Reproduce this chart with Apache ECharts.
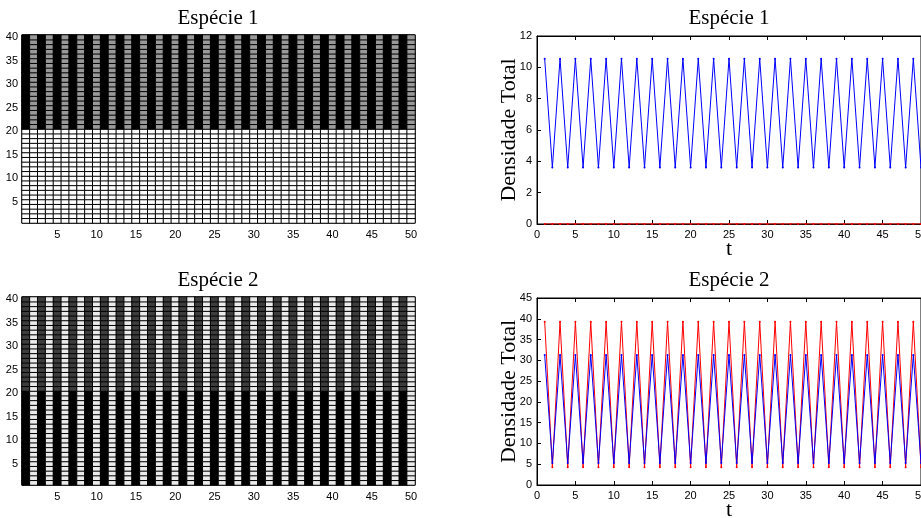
<!DOCTYPE html>
<html>
<head>
<meta charset="utf-8">
<script src="https://cdn.jsdelivr.net/npm/echarts@6/dist/echarts.min.js"></script>
<style>
  html, body { margin: 0; padding: 0; background: #fff; }
  #chart { width: 921px; height: 518px; }
</style>
</head>
<body>
<div id="chart"></div>
<script>
// ---- Lattice snapshot (50 columns x 40 rows) ----
const colunas = ['1','2','3','4','5','6','7','8','9','10','11','12','13','14','15','16','17','18','19','20',
  '21','22','23','24','25','26','27','28','29','30','31','32','33','34','35','36','37','38','39','40',
  '41','42','43','44','45','46','47','48','49','50'];
const linhas = ['1','2','3','4','5','6','7','8','9','10','11','12','13','14','15','16','17','18','19','20',
  '21','22','23','24','25','26','27','28','29','30','31','32','33','34','35','36','37','38','39','40'];
// rows 1..20 form the lower half, 21..40 the upper half
const linhaDivisao = 20;
// gray level (0 = black, 1 = white) of [odd column, even column] in each half
const esp1Superior = [0.0, 0.6];
const esp1Inferior = [1.0, 1.0];
const esp2Superior = [0.24, 0.92];
const esp2Inferior = [0.0, 0.92];

// ---- Total density over time ----
const tempo = [1,2,3,4,5,6,7,8,9,10,11,12,13,14,15,16,17,18,19,20,21,22,23,24,25,
  26,27,28,29,30,31,32,33,34,35,36,37,38,39,40,41,42,43,44,45,46,47,48,49,50];
const esp1Azul = [
  10.55,3.6,10.55,3.6,10.55,3.6,10.55,3.6,10.55,3.6,
  10.55,3.6,10.55,3.6,10.55,3.6,10.55,3.6,10.55,3.6,
  10.55,3.6,10.55,3.6,10.55,3.6,10.55,3.6,10.55,3.6,
  10.55,3.6,10.55,3.6,10.55,3.6,10.55,3.6,10.55,3.6,
  10.55,3.6,10.55,3.6,10.55,3.6,10.55,3.6,10.55,3.6];
const esp1Vermelho = [
  0,0,0,0,0,0,0,0,0,0, 0,0,0,0,0,0,0,0,0,0, 0,0,0,0,0,0,0,0,0,0,
  0,0,0,0,0,0,0,0,0,0, 0,0,0,0,0,0,0,0,0,0];
const esp2Vermelho = [
  39.3,4.3,39.3,4.3,39.3,4.3,39.3,4.3,39.3,4.3,
  39.3,4.3,39.3,4.3,39.3,4.3,39.3,4.3,39.3,4.3,
  39.3,4.3,39.3,4.3,39.3,4.3,39.3,4.3,39.3,4.3,
  39.3,4.3,39.3,4.3,39.3,4.3,39.3,4.3,39.3,4.3,
  39.3,4.3,39.3,4.3,39.3,4.3,39.3,4.3,39.3,4.3];
const esp2Azul = [
  31.3,5.3,31.3,5.3,31.3,5.3,31.3,5.3,31.3,5.3,
  31.3,5.3,31.3,5.3,31.3,5.3,31.3,5.3,31.3,5.3,
  31.3,5.3,31.3,5.3,31.3,5.3,31.3,5.3,31.3,5.3,
  31.3,5.3,31.3,5.3,31.3,5.3,31.3,5.3,31.3,5.3,
  31.3,5.3,31.3,5.3,31.3,5.3,31.3,5.3,31.3,5.3];

const titulo1 = 'Espécie 1';
const titulo2 = 'Espécie 2';
const nomeY = 'Densidade Total';
const nomeX = 't';

// build [col, row, level] cells from the per-half column pattern
function lattice(superior, inferior) {
  const out = [];
  for (let c = 0; c < colunas.length; c++) {
    for (let r = 0; r < linhas.length; r++) {
      const half = (r + 1) > linhaDivisao ? superior : inferior;
      out.push([c, r, half[c % 2]]);
    }
  }
  return out;
}
const pares = (ys) => tempo.map((t, i) => [t, ys[i]]);

const sans = '"Liberation Sans", Arial, sans-serif';
const serif = '"Liberation Serif", "Times New Roman", serif';
const tickLabel = { color: '#000', fontFamily: sans, fontSize: 11 };

function heatX(grid) {
  return {
    type: 'category', gridIndex: grid, data: colunas,
    axisLine: { show: false }, axisTick: { show: false },
    axisLabel: Object.assign({ interval: (i) => (i + 1) % 5 === 0, margin: 6 }, tickLabel),
    splitLine: { show: false }
  };
}
function heatY(grid) {
  return {
    type: 'category', gridIndex: grid, data: linhas,
    axisLine: { show: false }, axisTick: { show: false },
    axisLabel: Object.assign({ interval: (i) => (i + 1) % 5 === 0, margin: 4 }, tickLabel),
    splitLine: { show: false }
  };
}
function lineX(grid, top) {
  return {
    type: 'value', gridIndex: grid, min: 0, max: 50, interval: 5,
    position: top ? 'top' : 'bottom',
    axisLine: { show: true, lineStyle: { color: '#000', width: 1 } },
    axisTick: { show: true, inside: true, length: 4, lineStyle: { color: '#000' } },
    axisLabel: Object.assign({ show: !top, margin: 5, hideOverlap: false }, tickLabel),
    splitLine: { show: false },
    name: top ? '' : nomeX, nameLocation: 'middle', nameGap: 14, nameMoveOverlap: false,
    nameTextStyle: { fontFamily: serif, fontSize: 22, color: '#000' }
  };
}
function lineY(grid, max, step) {
  return {
    type: 'value', gridIndex: grid, min: 0, max: max, interval: step,
    axisLine: { show: true, lineStyle: { color: '#000', width: 1 } },
    axisTick: { show: true, inside: true, length: 4, lineStyle: { color: '#000' } },
    axisLabel: Object.assign({ margin: 5 }, tickLabel),
    splitLine: { show: false },
    name: nomeY, nameLocation: 'middle', nameGap: 17, nameRotate: 90, nameMoveOverlap: false,
    nameTextStyle: { fontFamily: serif, fontSize: 22, color: '#000' }
  };
}
function linha(xi, yi, dados, cor, z) {
  return {
    type: 'line', xAxisIndex: xi, yAxisIndex: yi, data: pares(dados),
    symbol: 'circle', symbolSize: 2, showSymbol: true,
    itemStyle: { color: cor }, lineStyle: { color: cor, width: 1 },
    z: z, animation: false, silent: true
  };
}
function heat(xi, yi, dados) {
  return {
    type: 'heatmap', xAxisIndex: xi, yAxisIndex: yi, data: dados,
    itemStyle: { borderColor: '#000', borderWidth: 1 },
    emphasis: { disabled: true }, animation: false, silent: true, progressive: 0
  };
}
function tituloTexto(text, x, y) {
  return {
    type: 'text', x: x, y: y, silent: true,
    style: { text: text, fill: '#000', font: '21px ' + serif, align: 'center', verticalAlign: 'middle' }
  };
}
function grade(left, top, width, height) {
  return {
    left: left, top: top, width: width, height: height,
    show: true, borderColor: '#000', borderWidth: 1, backgroundColor: 'transparent',
    containLabel: false, outerBoundsMode: 'none'
  };
}

const chart = echarts.init(document.getElementById('chart'), null, { renderer: 'canvas' });
chart.setOption({
  animation: false,
  backgroundColor: '#fff',
  grid: [
    grade(22, 35, 393, 188),
    grade(22, 297, 393, 188),
    grade(537, 36, 384, 188),
    grade(537, 298, 384, 187)
  ],
  xAxis: [heatX(0), heatX(1), lineX(2, false), lineX(2, true), lineX(3, false), lineX(3, true)],
  yAxis: [heatY(0), heatY(1), lineY(2, 12, 2), lineY(3, 45, 5)],
  visualMap: {
    type: 'continuous', show: false, min: 0, max: 1, dimension: 2,
    seriesIndex: [0, 1], inRange: { color: ['#000000', '#ffffff'] }
  },
  series: [
    heat(0, 0, lattice(esp1Superior, esp1Inferior)),
    heat(1, 1, lattice(esp2Superior, esp2Inferior)),
    linha(2, 2, esp1Vermelho, '#ff0000', 3),
    linha(2, 2, esp1Azul, '#0000ff', 4),
    linha(4, 3, esp2Vermelho, '#ff0000', 3),
    linha(4, 3, esp2Azul, '#0000ff', 4)
  ],
  graphic: [
    tituloTexto(titulo1, 218, 18),
    tituloTexto(titulo2, 218, 280),
    tituloTexto(titulo1, 729, 18),
    tituloTexto(titulo2, 729, 280)
  ]
});
</script>
</body>
</html>
